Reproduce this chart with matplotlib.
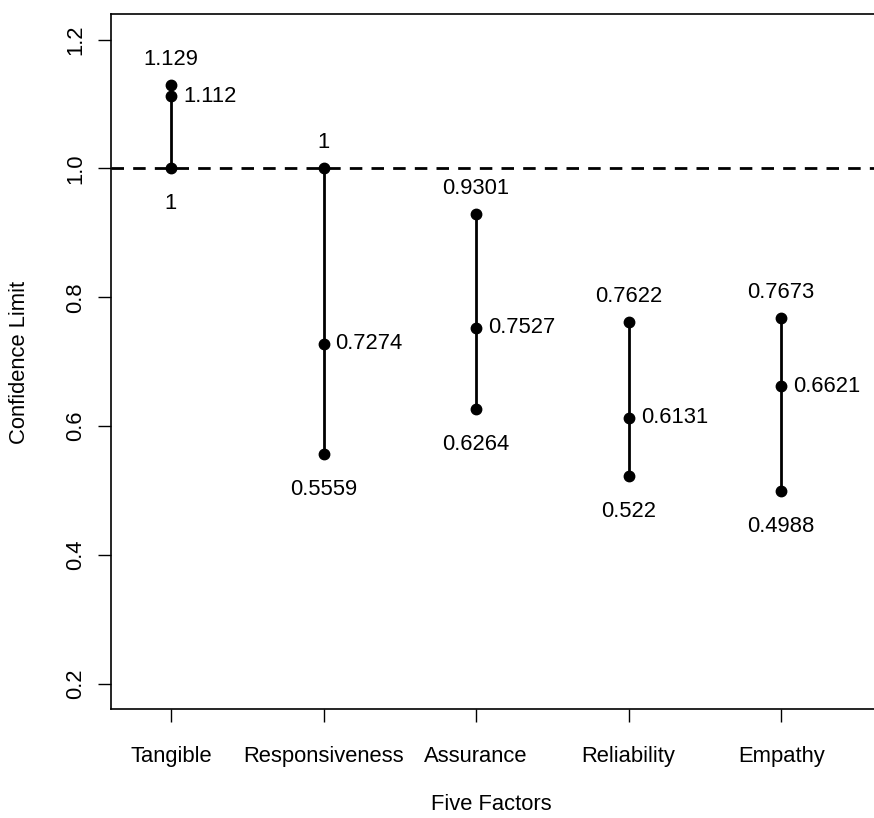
import matplotlib
matplotlib.use("Agg")
import matplotlib.pyplot as plt

factors = ["Tangible", "Responsiveness", "Assurance", "Reliability", "Empathy"]
upper = [1.129, 1, 0.9301, 0.7622, 0.7673]
estimate = [1.112, 0.7274, 0.7527, 0.6131, 0.6621]
lower = [1, 0.5559, 0.6264, 0.522, 0.4988]
yticks = [0.2, 0.4, 0.6, 0.8, 1.0, 1.2]

plt.rcParams["font.family"] = ["Liberation Sans", "DejaVu Sans"]
FS = 15.8

fig = plt.figure(figsize=(8.74, 8.18), dpi=100)
ax = fig.add_axes([0.1267, 0.1329, 0.8733 + 0.002, 0.85])

xs = list(range(1, len(factors) + 1))
ax.axhline(1.0, color="black", lw=2, ls=(0, (4.5, 3.3)), zorder=1)
for x, lo, mid, hi in zip(xs, lower, estimate, upper):
    ax.plot([x, x], [lo, hi], color="black", lw=2, zorder=2)
    ax.plot([x, x, x], [lo, mid, hi], "o", color="black", ms=7.5, zorder=3)
    ax.annotate(f"{hi:g}", (x, hi), xytext=(0, 15), textcoords="offset pixels",
                ha="center", va="bottom", fontsize=FS)
    ax.annotate(f"{mid:g}", (x, mid), xytext=(12, 0), textcoords="offset pixels",
                ha="left", va="center", fontsize=FS)
    ax.annotate(f"{lo:g}", (x, lo), xytext=(0, -25), textcoords="offset pixels",
                ha="center", va="top", fontsize=FS)

ax.set_xlim(0.605, 5.62)
ax.set_ylim(0.16, 1.24)
ax.set_xticks(xs)
ax.set_xticklabels(factors, fontsize=FS)
ax.set_yticks(yticks)
ax.set_yticklabels([f"{v:.1f}" for v in yticks], fontsize=FS, rotation=90, va="center")
ax.tick_params(axis="both", length=9.5, width=1, direction="out")
ax.tick_params(axis="x", pad=17)
ax.tick_params(axis="y", pad=8)
ax.spines["right"].set_visible(False)
for s in ["left", "top", "bottom"]:
    ax.spines[s].set_linewidth(1.2)

fig.text(491 / 874, 1 - 805 / 818, "Five Factors", fontsize=FS, ha="center", va="center")
fig.text(20 / 874, 1 - 362 / 818, "Confidence Limit", fontsize=FS, ha="center",
         va="center", rotation=90)

fig.savefig("out.png", dpi=100)
